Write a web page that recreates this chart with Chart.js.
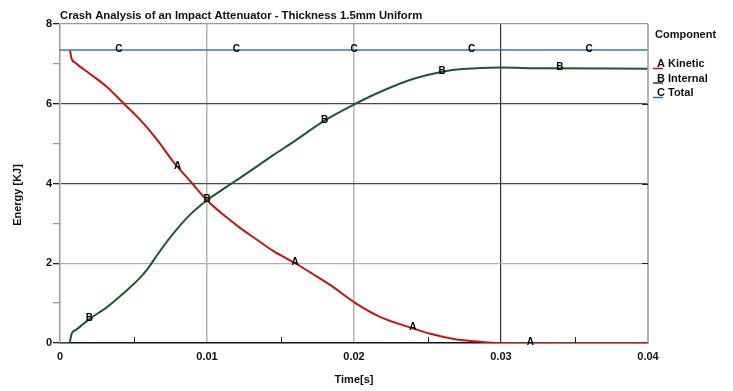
<!DOCTYPE html>
<html>
<head>
<meta charset="utf-8">
<script src="https://cdn.jsdelivr.net/npm/chart.js@4/dist/chart.umd.min.js"></script>
<style>
html,body{margin:0;padding:0;background:#fff;}
#wrap{position:relative;width:733px;height:391px;}
</style>
</head>
<body>
<div id="wrap"><canvas id="c" width="733" height="391"></canvas></div>
<script>
// ---- data ----
const chartTitle = 'Crash Analysis of an Impact Attenuator - Thickness 1.5mm Uniform';
const legendTitle = 'Component';
const seriesNames = ['Kinetic', 'Internal', 'Total'];
const seriesLetters = ['A', 'B', 'C'];

const timeKinetic = [0.00068, 0.0008, 0.0010, 0.0020, 0.0032, 0.0043, 0.0054, 0.0066, 0.0077, 0.0090, 0.0100, 0.0111, 0.0122, 0.0134, 0.0145, 0.0160, 0.0172, 0.0184, 0.0201, 0.0218, 0.0240, 0.0252, 0.0268, 0.0286, 0.0300, 0.0350, 0.0400];
const kinetic     = [7.33,    7.12,   7.04,   6.76,   6.42,   6.02,   5.62,   5.10,   4.55,   4.00,   3.58,   3.22,   2.90,   2.59,   2.31,   2.00,   1.73,   1.45,   1.00,   0.65,   0.37,   0.23,   0.10,   0.03,   0.00,   0.00,   0.00];

const timeInternal = [0, 0.00063, 0.0008, 0.0011, 0.0020, 0.0032, 0.0043, 0.0054, 0.0060, 0.0066, 0.0077, 0.0088, 0.0100, 0.0111, 0.0122, 0.0134, 0.0145, 0.0157, 0.0181, 0.0201, 0.0218, 0.0240, 0.0261, 0.0274, 0.0299, 0.0327, 0.0400];
const internal     = [0, 0,       0.24,   0.33,   0.60,   0.90,   1.24,   1.62,   1.88,   2.20,   2.74,   3.20,   3.58,   3.86,   4.13,   4.43,   4.71,   5.00,   5.60,   6.00,   6.30,   6.62,   6.81,   6.87,   6.91,   6.89,   6.88];

const timeTotal = [0, 0.04];
const total     = [7.35, 7.35];

const markerTimesA = [0.008, 0.016, 0.024, 0.032];
const markerTimesB = [0.002, 0.010, 0.018, 0.026, 0.034];
const markerTimesC = [0.004, 0.012, 0.020, 0.028, 0.036];

const xTickLabels = ['0', '0.01', '0.02', '0.03', '0.04'];
const yTickLabels = ['0', '2', '4', '6', '8'];
const xMinorTicks = [0.005, 0.015, 0.025, 0.035];

// ---- styles ----
const colors = ['#cc1111', '#1a5a2c', '#2a7db8'];
const FONT = "'Liberation Sans', Arial, sans-serif";

const toXY = (xs, ys) => xs.map((x, i) => ({x: x, y: ys[i]}));
const seriesTimes = [timeKinetic, timeInternal, timeTotal];
const seriesVals = [kinetic, internal, total];
const seriesMarkers = [markerTimesA, markerTimesB, markerTimesC];

function interp(xs, ys, t) {
  if (t <= xs[0]) return ys[0];
  for (let i = 1; i < xs.length; i++) {
    if (t <= xs[i]) {
      const f = (t - xs[i-1]) / (xs[i] - xs[i-1]);
      return ys[i-1] + f * (ys[i] - ys[i-1]);
    }
  }
  return ys[ys.length - 1];
}

const decoPlugin = {
  id: 'deco',
  afterDatasetsDraw(chart) {
    const ctx = chart.ctx, xs = chart.scales.x, ys = chart.scales.y, a = chart.chartArea;
    ctx.save();
    // right border
    ctx.strokeStyle = '#9a9a9a'; ctx.lineWidth = 1.5;
    ctx.beginPath(); ctx.moveTo(a.right, a.top); ctx.lineTo(a.right, a.bottom); ctx.stroke();
    // inward minor x ticks
    ctx.strokeStyle = '#222'; ctx.lineWidth = 1;
    xMinorTicks.forEach(t => {
      const px = Math.round(xs.getPixelForValue(t)) + 0.5;
      ctx.beginPath(); ctx.moveTo(px, a.bottom); ctx.lineTo(px, a.bottom - 6); ctx.stroke();
    });
    // inward ticks on right border
    [2, 4, 6].forEach(v => {
      const py = Math.round(ys.getPixelForValue(v)) + 0.5;
      ctx.beginPath(); ctx.moveTo(a.right, py); ctx.lineTo(a.right - 6, py); ctx.stroke();
    });
    // letter markers on the curves
    ctx.fillStyle = '#000';
    ctx.font = 'bold 10px ' + FONT;
    ctx.textAlign = 'center';
    ctx.textBaseline = 'alphabetic';
    seriesMarkers.forEach((mk, si) => {
      mk.forEach(t => {
        const v = interp(seriesTimes[si], seriesVals[si], t);
        const px = xs.getPixelForValue(t), py = ys.getPixelForValue(v);
        ctx.fillText(seriesLetters[si], px, py + 2);
      });
    });
    // chart title
    ctx.textAlign = 'left';
    ctx.font = 'bold 11.3px ' + FONT;
    ctx.fillStyle = '#111';
    ctx.fillText(chartTitle, a.left, 19);
    // y-axis title
    ctx.save();
    ctx.translate(21, 195);
    ctx.rotate(-Math.PI / 2);
    ctx.textAlign = 'center';
    ctx.font = 'bold 11px ' + FONT;
    ctx.fillText('Energy [KJ]', 0, 0);
    ctx.restore();
    // legend
    const lx = a.right + 7;
    ctx.font = 'bold 11px ' + FONT;
    ctx.fillStyle = '#111';
    ctx.fillText(legendTitle, lx, 38);
    seriesNames.forEach((n, i) => {
      const by = 67 + i * 14.5;
      ctx.strokeStyle = colors[i]; ctx.lineWidth = 1.6;
      ctx.beginPath(); ctx.moveTo(lx - 2, by + 1.5); ctx.lineTo(lx + 8, by + 1.5); ctx.stroke();
      ctx.fillStyle = '#111';
      ctx.fillText(seriesLetters[i], lx + 2, by);
      ctx.fillText(n, lx + 13, by);
    });
    ctx.restore();
  }
};

new Chart(document.getElementById('c'), {
  type: 'line',
  data: {
    datasets: seriesNames.map((n, i) => ({
      label: n,
      data: toXY(seriesTimes[i], seriesVals[i]),
      borderColor: colors[i],
      borderWidth: i === 2 ? 1.5 : 2,
      pointRadius: 0,
      fill: false,
      cubicInterpolationMode: 'monotone'
    }))
  },
  options: {
    responsive: false,
    animation: false,
    layout: {padding: {left: 0, right: 85, top: 24, bottom: 0}},
    plugins: {legend: {display: false}, tooltip: {enabled: false}, title: {display: false}},
    scales: {
      x: {
        type: 'linear', min: 0, max: 0.04,
        afterFit: s => { s.height = 48; },
        afterBuildTicks: s => { s.ticks = [0,1,2,3,4,5,6,7,8].map(k => ({value: k * 0.005})); },
        ticks: {
          autoSkip: false, maxRotation: 0, padding: 7,
          color: '#111', font: {family: FONT, size: 11, weight: 'bold'},
          callback: (v, i) => (i % 2 === 0 ? xTickLabels[i / 2] : '')
        },
        grid: {
          drawTicks: false,
          color: c => {
            const i = c.index;
            if (i === 2 || i === 4) return '#b4b4b4';
            if (i === 6) return '#333';
            return 'rgba(0,0,0,0)';
          },
          lineWidth: c => (c.index === 6 ? 1.2 : 1.5)
        },
        border: {color: '#111', width: 1.5},
        title: {display: true, text: 'Time[s]', color: '#111', font: {family: FONT, size: 11, weight: 'bold'}, padding: {top: 9}}
      },
      y: {
        type: 'linear', min: 0, max: 8,
        afterFit: s => { s.width = 60; },
        afterBuildTicks: s => { s.ticks = [0,1,2,3,4,5,6,7,8].map(k => ({value: k})); },
        ticks: {
          autoSkip: false, padding: 1,
          color: '#111', font: {family: FONT, size: 11, weight: 'bold'},
          callback: (v, i) => (i % 2 === 0 ? yTickLabels[i / 2] : '')
        },
        grid: {
          tickLength: 7,
          color: c => {
            const v = c.tick ? c.tick.value : 0;
            if (v === 2) return '#b0b0b0';
            if (v === 4 || v === 6) return '#4a4a4a';
            if (v === 8) return '#9a9a9a';
            return 'rgba(0,0,0,0)';
          },
          tickColor: c => {
            const v = c.tick ? c.tick.value : 0;
            return v % 2 === 0 ? '#222' : '#999';
          },
          lineWidth: 1.3
        },
        border: {color: '#9a9a9a', width: 1.5}
      }
    }
  },
  plugins: [decoPlugin]
});
</script>
</body>
</html>
